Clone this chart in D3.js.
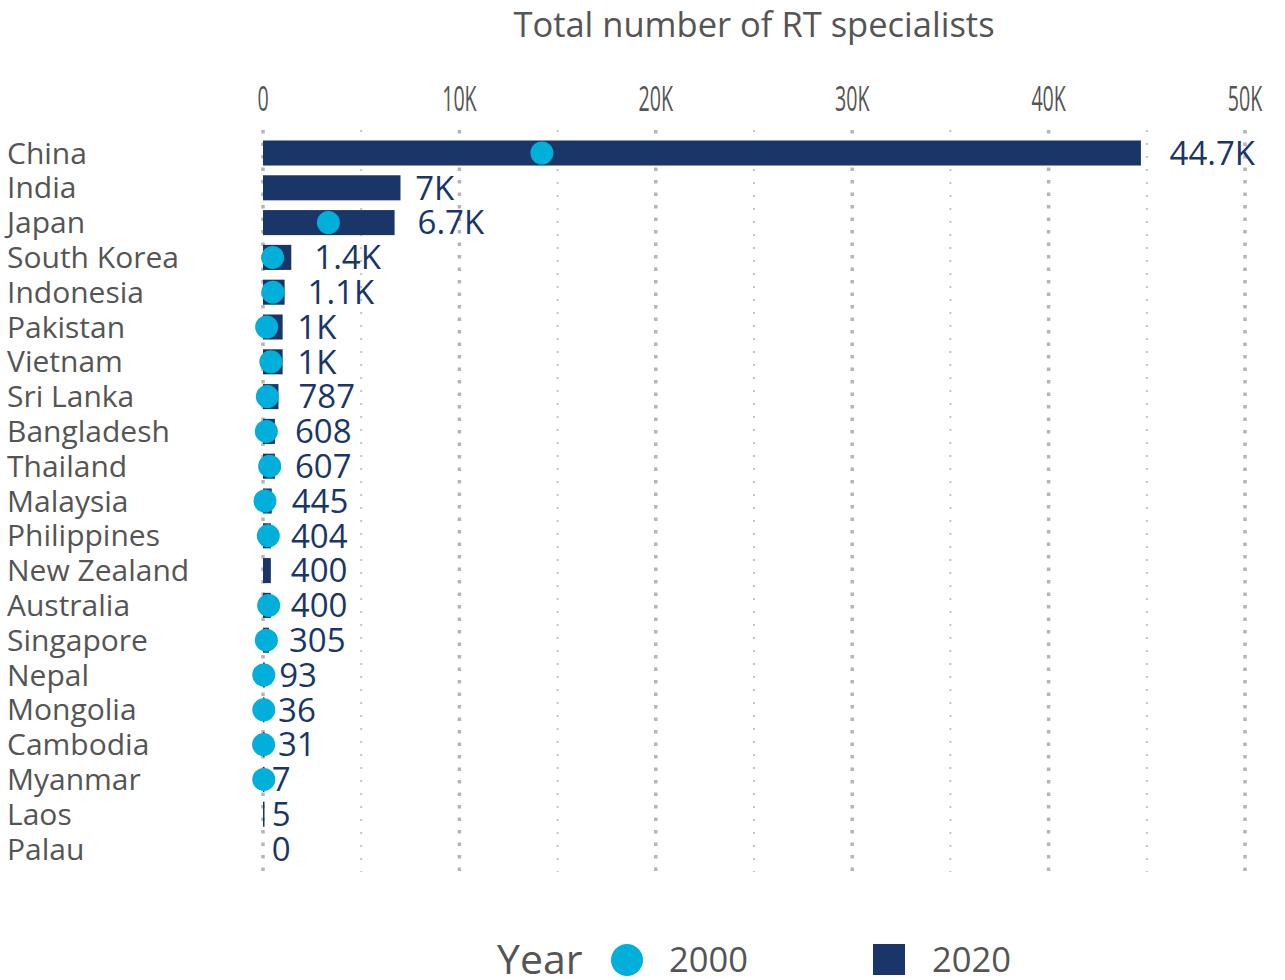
<!DOCTYPE html>
<html><head><meta charset="utf-8">
<script src="https://cdn.jsdelivr.net/npm/d3@7"></script>
<style>body{margin:0;background:#fff;} svg{display:block;}</style>
</head><body>
<svg id="c" width="1285" height="980"></svg>
<script>
const countries = ["China","India","Japan","South Korea","Indonesia","Pakistan","Vietnam","Sri Lanka","Bangladesh","Thailand","Malaysia","Philippines","New Zealand","Australia","Singapore","Nepal","Mongolia","Cambodia","Myanmar","Laos","Palau"];
const values2020 = [44700,7000,6700,1440,1100,1000,1000,787,608,607,445,404,400,400,305,93,36,31,7,5,0];
const values2000 = [14200,null,3330,490,500,185,400,220,170,340,100,270,null,290,170,40,40,30,40,null,null];
const xTicks = [0,10000,20000,30000,40000,50000];
const xTickLabels = ["0","10K","20K","30K","40K","50K"];
const gridValues = [0,5000,10000,15000,20000,25000,30000,35000,40000,45000,50000];
const legendYears = ["2000","2020"];

const navy = "#1a3668", cyan = "#00b0da", grey = "#555555";
const font = "'Open Sans', sans-serif";
const svg = d3.select("#c");

const x = d3.scaleLinear().domain([0,50000]).range([263,1245]);
const y = d3.scaleBand().domain(countries).range([135.6,866.4]).paddingInner(0.28).paddingOuter(0.14);

// title
svg.append("text").attr("x",754).attr("y",37).attr("text-anchor","middle")
  .attr("font-family",font).attr("font-size",34.5).attr("fill",grey)
  .text("Total number of RT specialists");

// gridlines
svg.append("g").selectAll("line").data(gridValues).join("line")
  .attr("x1",d=>x(d)).attr("x2",d=>x(d)).attr("y1",130).attr("y2",872)
  .attr("stroke",d=>d%10000===0?"#b5b5b5":"#c4c4c4")
  .attr("stroke-width",d=>d%10000===0?3.5:2)
  .attr("stroke-dasharray",d=>d%10000===0?"3.5,9":"2,11");

// axis tick labels (condensed)
svg.append("g").selectAll("text").data(xTicks).join("text")
  .attr("transform",d=>`translate(${x(d)},111) scale(0.56,1)`)
  .attr("text-anchor","middle").attr("font-family",font).attr("font-size",35).attr("fill",grey)
  .text((d,i)=>xTickLabels[i]);

// country labels
svg.append("g").selectAll("text").data(countries).join("text")
  .attr("x",7).attr("y",d=>y(d)+y.bandwidth()/2).attr("dy","0.35em")
  .attr("font-family",font).attr("font-size",30).attr("fill",grey)
  .text(d=>d);

// bars
svg.append("g").selectAll("rect").data(countries).join("rect")
  .attr("x",x(0)).attr("y",d=>y(d)).attr("height",y.bandwidth())
  .attr("width",(d,i)=>values2020[i]>0?Math.max(1.5,x(values2020[i])-x(0)):0)
  .attr("fill",navy);

// dots
svg.append("g").selectAll("circle").data(countries.filter((d,i)=>values2000[i]!=null)).join("circle")
  .attr("cx",d=>x(values2000[countries.indexOf(d)])).attr("cy",d=>y(d)+y.bandwidth()/2)
  .attr("r",11.5).attr("fill",cyan);

// value labels
const fmt = v => v>=1000 ? (v/1000).toFixed(1).replace(/\.0$/,"")+"K" : String(v);
const lbl = svg.append("g").selectAll("text").data(countries).join("text")
  .attr("y",d=>y(d)+y.bandwidth()/2).attr("dy","0.36em")
  .attr("font-family",font).attr("font-size",33).attr("fill",navy)
  .text((d,i)=>fmt(values2020[i]));
lbl.each(function(d,i){
  const w = this.getComputedTextLength();
  d3.select(this).attr("x", x(values2020[i]) + 3 + 0.3*w);
});

// legend
const lg = svg.append("g");
lg.append("text").attr("x",497).attr("y",974).attr("font-family",font).attr("font-size",41).attr("fill",grey).text("Year");
lg.append("circle").attr("cx",627).attr("cy",960).attr("r",16).attr("fill",cyan);
lg.append("text").attr("x",669).attr("y",972).attr("font-family",font).attr("font-size",34.5).attr("fill",grey).text(legendYears[0]);
lg.append("rect").attr("x",873).attr("y",944).attr("width",32).attr("height",31).attr("fill",navy);
lg.append("text").attr("x",932).attr("y",972).attr("font-family",font).attr("font-size",34.5).attr("fill",grey).text(legendYears[1]);
</script>
</body></html>
